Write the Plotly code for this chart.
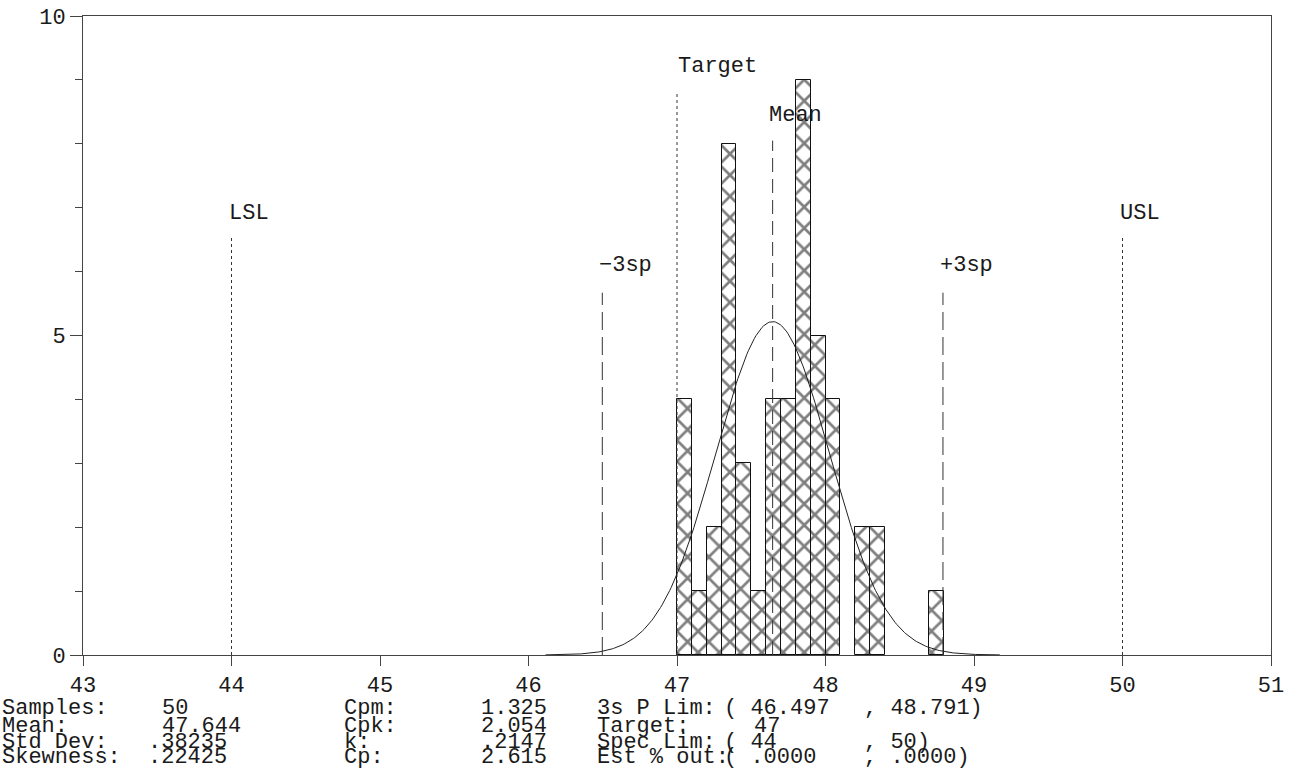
import math
import plotly.graph_objects as go

# ---------------- data ----------------
BIN_CENTERS = [47.05, 47.15, 47.25, 47.35, 47.45, 47.55, 47.65, 47.75, 47.85, 47.95, 48.05, 48.25, 48.35, 48.75]
COUNTS      = [4,     1,     2,     8,     3,     1,     4,     4,     9,     5,     4,     2,     2,     1]
BIN_WIDTH = 0.1

N_SAMPLES = 50
MEAN = 47.644
STD = 0.38235
LSL = 44
USL = 50
TARGET = 47
LOWER_3S = 46.497
UPPER_3S = 48.791

X_TICKS = [43, 44, 45, 46, 47, 48, 49, 50, 51]
Y_TICKS = [0, 5, 10]

STATS_LABELS_1 = ["Samples:", "Mean:", "Std Dev:", "Skewness:"]
STATS_VALUES_1 = ["50", "47.644", ".38235", ".22425"]
STATS_LABELS_2 = ["Cpm:", "Cpk:", "k:", "Cp:"]
STATS_VALUES_2 = ["1.325", "2.054", ".2147", "2.615"]
STATS_LABELS_3 = ["3s P Lim:", "Target:", "Spec Lim:", "Est % out:"]
STATS_VALUES_3A = ["( 46.497", "47", "( 44", "( .0000"]
STATS_VALUES_3B = [", 48.791)", "", ", 50)", ", .0000)"]

# ---------------- figure ----------------
FONT = "Liberation Mono, Courier New, monospace"
INK = "#1a1a1a"

W, H = 1292, 784
ML, MR, MT, MB = 83, 21, 16, 129
PW = W - ML - MR
PH = H - MT - MB

def px2paper_x(px):
    return (px - ML) / PW

def px2paper_y(py):
    return (H - MB - py) / PH

fig = go.Figure()

fig.add_trace(go.Bar(
    x=BIN_CENTERS, y=COUNTS, width=BIN_WIDTH,
    marker=dict(color="white",
                line=dict(color="#111", width=1),
                pattern=dict(shape="x", fgcolor="#000", bgcolor="white",
                             size=15, solidity=0.33)),
    showlegend=False, hoverinfo="x+y",
))

# fitted normal curve from the stated mean / std dev
xs = [MEAN - 4 * STD + i * (8 * STD) / 300 for i in range(301)]
scale = N_SAMPLES * BIN_WIDTH / (STD * math.sqrt(2 * math.pi))
ys = [scale * math.exp(-0.5 * ((x - MEAN) / STD) ** 2) for x in xs]
fig.add_trace(go.Scatter(x=xs, y=ys, mode="lines",
                         line=dict(color="#222", width=1),
                         showlegend=False, hoverinfo="skip"))

# reference lines: (value, top, dash, label, label_x, label_y)
ref_lines = [
    (LSL, 6.53, "dot", "LSL", LSL - 0.03, 6.91),
    (USL, 6.53, "dot", "USL", USL - 0.03, 6.91),
    (TARGET, 8.81, "dot", "Target", TARGET - 0.01, 9.21),
    (MEAN, 8.05, "14px,7px", "Mean", MEAN - 0.035, 8.45),
    (LOWER_3S, 5.67, "18px,7px", "\u22123sp", LOWER_3S - 0.035, 6.09),
    (UPPER_3S, 5.67, "18px,7px", "+3sp", UPPER_3S - 0.035, 6.09),
]
for val, top, dash, label, lx, ly in ref_lines:
    fig.add_trace(go.Scatter(x=[val, val], y=[0, top], mode="lines",
                             line=dict(color="#333", width=1, dash=dash),
                             showlegend=False, hoverinfo="skip"))
    fig.add_annotation(x=lx, y=ly, xref="x", yref="y", text=label,
                       showarrow=False, xanchor="left", yanchor="middle",
                       font=dict(family=FONT, size=22, color=INK))

# statistics block under the chart
ROW_Y = [709, 726, 742, 758]
STAT_FONT = dict(family=FONT, size=22, color=INK)

def add_text(txt, px, py, anchor="left"):
    if not txt:
        return
    fig.add_annotation(x=px2paper_x(px), y=px2paper_y(py), xref="paper", yref="paper",
                       text=txt.replace(" ", "\u00a0"), showarrow=False,
                       xanchor=anchor, yanchor="middle", font=STAT_FONT)

col_b_x = [160, 160, 146, 146]
col_f_x = [722, 752, 722, 722]
for i in range(4):
    add_text(STATS_LABELS_1[i], 0, ROW_Y[i])
    add_text(STATS_VALUES_1[i], col_b_x[i], ROW_Y[i])
    add_text(STATS_LABELS_2[i], 342, ROW_Y[i])
    add_text(STATS_VALUES_2[i], 549, ROW_Y[i], anchor="right")
    add_text(STATS_LABELS_3[i], 595, ROW_Y[i])
    add_text(STATS_VALUES_3A[i], col_f_x[i], ROW_Y[i])
    add_text(STATS_VALUES_3B[i], 862, ROW_Y[i])

fig.update_layout(
    width=W, height=H,
    margin=dict(l=ML, r=MR, t=MT, b=MB, pad=0, autoexpand=False),
    plot_bgcolor="white", paper_bgcolor="white",
    bargap=0,
    xaxis=dict(range=[43, 51], tickvals=X_TICKS, ticktext=[str(v) for v in X_TICKS],
               automargin=False,
               showgrid=False, zeroline=False, showline=True, mirror=True,
               linecolor="#444", linewidth=1,
               ticks="outside", ticklen=10, tickcolor="#444",
               tickfont=dict(family=FONT, size=22, color=INK)),
    yaxis=dict(range=[0, 10], tickvals=Y_TICKS, ticktext=[str(v) for v in Y_TICKS],
               automargin=False,
               showgrid=False, zeroline=False, showline=True, mirror=True,
               linecolor="#444", linewidth=1,
               ticks="outside", ticklen=12, tickcolor="#444",
               tickfont=dict(family=FONT, size=22, color=INK),
               minor=dict(dtick=1, ticks="outside", ticklen=7, tickcolor="#444", showgrid=False)),
)

fig.write_html("out.html", config={"displayModeBar": False},
               post_script="document.body.style.margin='0';document.body.style.overflow='hidden';")
